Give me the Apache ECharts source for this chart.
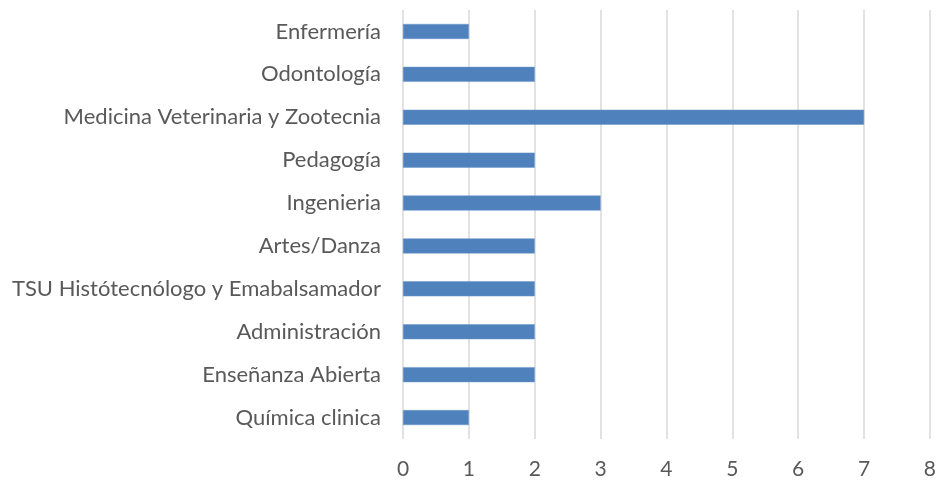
<!DOCTYPE html>
<html>
<head>
<meta charset="utf-8">
<script src="https://cdn.jsdelivr.net/npm/echarts@6/dist/echarts.min.js"></script>
<style>
  html, body { margin: 0; padding: 0; background: #fff; }
  #chart { width: 939px; height: 480px; }
</style>
</head>
<body>
<div id="chart"></div>
<script>
// categories listed top to bottom
const categories = [
  "Enfermería",
  "Odontología",
  "Medicina Veterinaria y Zootecnia",
  "Pedagogía",
  "Ingenieria",
  "Artes/Danza",
  "TSU Histótecnólogo y Emabalsamador",
  "Administración",
  "Enseñanza Abierta",
  "Química clinica"
];
const values = [1, 2, 7, 2, 3, 2, 2, 2, 2, 1];

const chart = echarts.init(document.getElementById("chart"));

const option = {
  animation: false,
  grid: { left: 403, right: 4, top: 10, bottom: 41 },
  xAxis: {
    type: "value",
    min: 0,
    max: 8,
    interval: 1,
    axisLine: { show: false },
    axisTick: { show: false },
    splitLine: { lineStyle: { color: "#d9d9d9", width: 1.5 } },
    axisLabel: { color: "#595959", fontSize: 21, fontFamily: "Lato", margin: 20 }
  },
  yAxis: {
    type: "category",
    data: categories,
    inverse: true,
    axisLine: { show: false },
    axisTick: { show: false },
    axisLabel: { color: "#595959", fontSize: 22, fontFamily: "Lato", margin: 22 }
  },
  series: [
    {
      type: "bar",
      data: values,
      barWidth: 15,
      itemStyle: { color: "#4f81bd", borderColor: "#6a96cb", borderWidth: 0.5 }
    }
  ]
};

chart.setOption(option);
</script>
</body>
</html>
